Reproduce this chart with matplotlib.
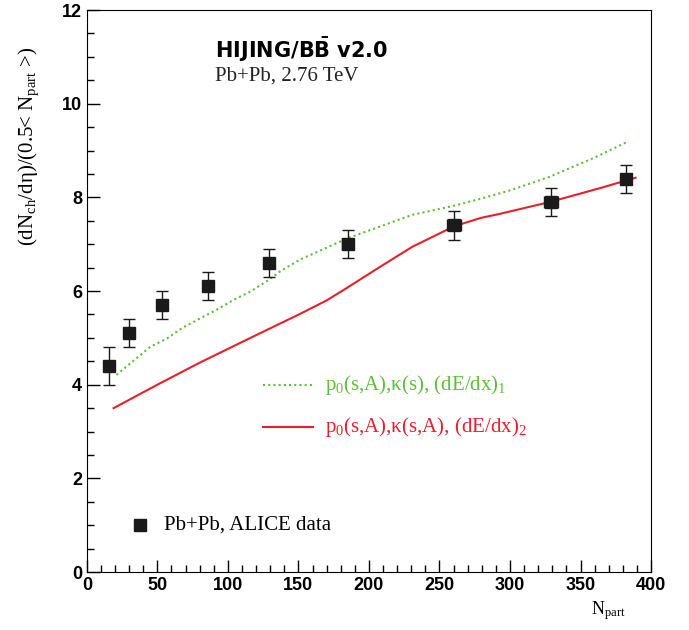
import numpy as np
import matplotlib.pyplot as plt
from matplotlib.ticker import MultipleLocator

# ALICE data
npart = [16, 30, 53, 86, 129, 185, 260, 329, 382]
dndeta = [4.4, 5.1, 5.7, 6.1, 6.6, 7.0, 7.4, 7.9, 8.4]
yerr = [0.4, 0.3, 0.3, 0.3, 0.3, 0.3, 0.3, 0.3, 0.3]
xerr = [0, 0, 0, 0, 0, 4, 5, 5, 0]

# HIJING/BBbar v2.0 curves
green_x = [21, 45, 57, 68, 92, 104, 116, 129, 137, 151, 185, 231, 260, 279, 300, 328, 360, 382]
green_y = [4.21, 4.81, 4.99, 5.22, 5.6, 5.81, 5.99, 6.24, 6.42, 6.67, 7.13, 7.63, 7.82, 7.97, 8.15, 8.44, 8.85, 9.17]
red_x = [19, 50, 80, 116, 151, 170, 184, 208, 231, 248, 260, 279, 293, 328, 364, 389]
red_y = [3.5, 4.0, 4.47, 5.0, 5.51, 5.8, 6.06, 6.52, 6.95, 7.2, 7.38, 7.56, 7.65, 7.9, 8.2, 8.42]

green = '#5fbf3a'
red = '#e8202a'
serif = 'Liberation Serif'

plt.rcParams['mathtext.fontset'] = 'custom'
plt.rcParams['mathtext.rm'] = 'Liberation Serif'
plt.rcParams['mathtext.it'] = 'Liberation Serif:italic'

fig = plt.figure(figsize=(6.89, 6.30), dpi=100)
ax = fig.add_axes([0.126, 0.092, 0.819, 0.892])

ax.plot(green_x, green_y, color=green, linestyle=(0, (1, 1.5)), linewidth=1.5)
ax.plot(red_x, red_y, color=red, linewidth=1.5)
ax.errorbar(npart, dndeta, yerr=yerr, xerr=xerr, fmt='s', color='#1a1a1a',
            markersize=9, capsize=4, elinewidth=1, capthick=1)

ax.set_xlim(0, 400)
ax.set_ylim(0, 12)
ax.xaxis.set_major_locator(MultipleLocator(50))
ax.xaxis.set_minor_locator(MultipleLocator(10))
ax.yaxis.set_major_locator(MultipleLocator(2))
ax.yaxis.set_minor_locator(MultipleLocator(0.5))
ax.tick_params(which='both', direction='in', top=False, right=False)
ax.tick_params(which='major', length=9, width=1)
ax.tick_params(which='minor', length=5, width=1)
for lab in ax.get_xticklabels() + ax.get_yticklabels():
    lab.set_fontfamily('Liberation Sans')
    lab.set_fontweight('bold')
    lab.set_fontsize(13)

fig.text(0.042, 0.925, r'(dN$_{\rm ch}$/dη)/(0.5< N$_{\rm part}$ >)', fontsize=15,
         family=serif, rotation=90, ha='center', va='top')
fig.text(0.858, 0.025, r'N$_{\rm part}$', fontsize=13, family=serif)

ax.text(0.227, 0.915, r'$\mathbf{HIJING/B\bar{B}\ v2.0}$', transform=ax.transAxes,
        fontsize=15, math_fontfamily='dejavusans')
ax.text(0.227, 0.875, 'Pb+Pb, 2.76 TeV', transform=ax.transAxes,
        fontsize=15, family=serif, color='#222222')

# legend for curves
ax.plot([125, 160], [4.0, 4.0], color=green, linestyle=(0, (1, 1.5)), linewidth=1.5)
ax.text(169, 4.0, r'p$_0$(s,A),κ(s), (dE/dx)$_1$', color=green,
        fontsize=15, family=serif, va='center')
ax.plot([125, 160], [3.1, 3.1], color=red, linewidth=1.5)
ax.text(169, 3.1, r'p$_0$(s,A),κ(s,A), (dE/dx)$_2$', color=red,
        fontsize=15, family=serif, va='center')

# legend for data
ax.plot([38], [1.0], 's', color='#1a1a1a', markersize=9)
ax.text(55, 1.0, 'Pb+Pb, ALICE data', fontsize=15, family=serif, va='center')

fig.savefig('out.png', dpi=100)
